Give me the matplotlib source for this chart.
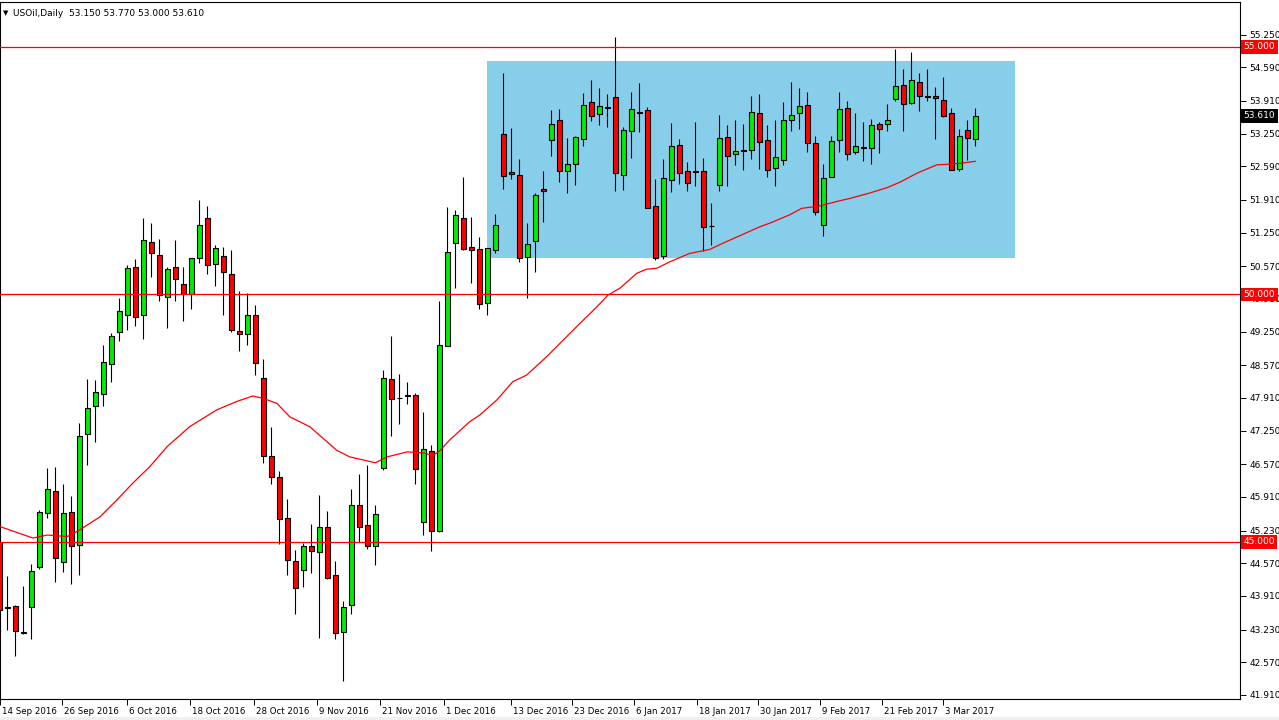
import numpy as np
import matplotlib
matplotlib.use('Agg')
import matplotlib.pyplot as plt
import matplotlib.transforms as mtransforms
from matplotlib.patches import Rectangle

plt.rcParams['font.family'] = ['DejaVu Sans']

# --- data (bar index 0 = 15 Sep 2016) ---
symbol = 'USOil,Daily'
last_ohlc = [53.150, 53.770, 53.000, 53.610]

bar_index = list(range(-1, 122))
opens = [45.00, 43.68, 43.71, 43.18, 43.68, 44.50, 45.58, 46.03, 44.60, 45.60,
         44.93, 47.18, 47.74, 47.98, 48.59, 49.24, 49.58, 50.55, 49.58, 51.06,
         50.79, 49.94, 50.55, 50.21, 50.02, 50.73, 51.54, 50.61, 50.77, 50.41,
         49.26, 49.20, 49.58, 48.31, 46.73, 46.31, 45.48, 44.61, 44.43, 44.92,
         44.80, 45.30, 44.33, 43.19, 43.73, 45.75, 45.34, 44.92, 46.50, 48.29,
         47.91, 47.94, 47.97, 45.41, 46.84, 45.22, 48.96, 51.04, 51.54, 50.95,
         50.91, 49.82, 50.89, 53.24, 52.47, 52.41, 50.75, 51.08, 52.13, 53.12,
         53.52, 52.49, 52.63, 53.14, 53.88, 53.64, 53.79, 53.98, 52.41, 53.30,
         53.69, 53.72, 51.78, 50.77, 52.31, 53.01, 52.49, 52.49, 52.49, 51.39,
         52.21, 53.18, 52.83, 52.91, 52.91, 53.66, 53.12, 52.55, 52.71, 53.52,
         53.66, 53.82, 53.07, 51.40, 52.37, 53.12, 53.76, 52.87, 52.97, 52.95,
         53.44, 53.44, 53.94, 54.23, 53.86, 54.29, 54.00, 54.00, 53.92, 53.66,
         52.53, 53.32, 53.15]
highs = [45.05, 44.31, 43.73, 44.11, 44.56, 45.65, 46.50, 46.52, 46.17, 45.93,
         47.41, 48.29, 48.27, 48.98, 49.22, 49.93, 50.60, 50.72, 51.55, 51.45,
         51.12, 50.55, 51.10, 50.55, 50.74, 51.91, 51.79, 51.00, 50.95, 50.90,
         50.07, 50.03, 49.78, 48.69, 47.32, 46.44, 45.87, 44.84, 44.97, 45.37,
         45.94, 45.62, 44.61, 43.80, 46.08, 46.38, 46.56, 45.75, 48.48, 49.16,
         48.40, 48.23, 48.02, 47.63, 46.95, 49.87, 51.77, 51.70, 52.37, 51.57,
         51.16, 50.93, 51.62, 54.47, 53.36, 52.73, 51.44, 52.05, 52.49, 53.72,
         53.74, 53.16, 53.20, 54.07, 54.33, 54.17, 54.05, 55.20, 53.38, 54.09,
         54.27, 53.78, 52.33, 52.74, 53.46, 53.14, 52.67, 53.48, 52.75, 51.85,
         53.62, 53.42, 53.52, 53.44, 54.01, 54.05, 53.42, 53.53, 53.89, 54.29,
         54.17, 54.09, 53.20, 52.63, 53.20, 54.09, 53.91, 53.67, 53.48, 53.54,
         53.48, 53.85, 54.95, 54.55, 54.89, 54.47, 54.55, 54.19, 54.39, 53.76,
         53.34, 53.52, 53.77]
lows = [43.40, 43.22, 42.70, 43.14, 43.05, 44.46, 45.49, 44.20, 44.40, 44.15,
        44.33, 46.56, 47.01, 47.75, 48.24, 49.07, 49.29, 49.36, 49.11, 50.36,
        49.86, 49.33, 49.86, 49.47, 49.71, 50.64, 50.42, 50.17, 49.59, 49.24,
        48.85, 48.97, 48.38, 46.60, 46.17, 44.96, 44.34, 43.55, 44.09, 44.38,
        43.07, 44.25, 43.04, 42.20, 43.54, 45.00, 44.86, 44.53, 46.45, 47.15,
        47.38, 47.78, 46.18, 45.14, 44.82, 45.20, 48.95, 50.14, 50.90, 50.24,
        49.70, 49.58, 50.83, 52.14, 52.33, 50.65, 49.92, 50.46, 51.47, 52.80,
        52.28, 52.06, 52.22, 52.99, 53.51, 53.42, 53.38, 52.10, 52.12, 52.76,
        53.29, 51.74, 50.69, 50.71, 52.08, 52.24, 52.09, 52.20, 50.87, 50.99,
        52.10, 52.20, 52.62, 52.52, 52.74, 52.54, 52.38, 52.20, 52.61, 53.31,
        53.35, 52.87, 51.60, 51.19, 52.37, 52.87, 52.72, 52.83, 52.70, 52.64,
        52.85, 53.31, 53.90, 53.31, 53.84, 53.71, 53.90, 53.15, 53.59, 52.51,
        52.50, 52.72, 53.00]
closes = [43.63, 43.67, 43.21, 43.17, 44.41, 45.60, 46.07, 44.67, 45.58, 44.91,
          47.14, 47.70, 48.03, 48.63, 49.16, 49.66, 50.54, 49.54, 51.10, 50.83,
          49.98, 50.51, 50.31, 50.02, 50.73, 51.40, 50.59, 50.93, 50.45, 49.28,
          49.20, 49.58, 48.61, 46.73, 46.31, 45.46, 44.63, 44.07, 44.91, 44.81,
          45.30, 44.27, 43.16, 43.69, 45.75, 45.30, 44.92, 45.57, 48.31, 47.89,
          47.90, 47.96, 46.48, 46.88, 45.22, 48.98, 50.86, 51.61, 50.92, 50.89,
          49.80, 50.93, 51.40, 52.39, 52.43, 50.73, 51.03, 52.01, 52.09, 53.44,
          52.49, 52.63, 53.18, 53.82, 53.60, 53.80, 53.77, 52.45, 53.32, 53.74,
          53.67, 51.74, 50.73, 52.35, 52.99, 52.45, 52.25, 52.48, 51.36, 51.38,
          53.16, 52.79, 52.89, 52.90, 53.68, 53.08, 52.51, 52.77, 53.52, 53.62,
          53.80, 53.06, 51.66, 52.35, 53.10, 53.74, 52.83, 52.99, 52.96, 53.42,
          53.34, 53.52, 54.21, 53.84, 54.33, 54.00, 53.99, 53.96, 53.61, 52.51,
          53.20, 53.16, 53.61]

# moving average line, sampled along its path
ma_index = [-0.9, 3.2, 5.0, 7.5, 9.0, 11.6, 13.7, 15.7, 17.8, 20.0, 22.8, 26.2,
            28.7, 30.7, 32.0, 33.7, 35.3, 37.8, 41.2, 42.8, 46.0, 47.5, 50.0,
            52.0, 53.2, 54.1, 55.3, 57.8, 59.1, 61.2, 63.2, 64.9, 67.4, 69.5,
            71.6, 73.7, 75.1, 76.6, 78.7, 79.9, 81.2, 82.8, 85.3, 87.8, 89.5,
            91.6, 94.1, 95.3, 97.8, 99.3, 101.6, 103.7, 105.3, 107.8, 110.0,
            111.6, 113.7, 116.2, 117.5, 119.1, 121.0]
ma_values = [45.31, 45.08, 45.14, 45.11, 45.24, 45.51, 45.85, 46.19, 46.52, 46.93,
             47.33, 47.67, 47.84, 47.95, 47.90, 47.80, 47.53, 47.33, 46.85, 46.72,
             46.60, 46.72, 46.82, 46.80, 46.75, 46.85, 47.06, 47.43, 47.57, 47.87,
             48.24, 48.37, 48.74, 49.08, 49.42, 49.75, 49.99, 50.13, 50.43, 50.51,
             50.53, 50.66, 50.83, 50.91, 51.04, 51.19, 51.37, 51.44, 51.61, 51.74,
             51.79, 51.88, 51.94, 52.05, 52.16, 52.27, 52.45, 52.62, 52.63, 52.65,
             52.69]

levels = [55.0, 50.0, 45.0]
zone_start, zone_end = 59.96, 125.96
zone_low, zone_high = 50.74, 54.72

price_ticks = [55.250, 54.590, 53.910, 53.250, 52.590, 51.910, 51.250, 50.570,
               49.910, 49.250, 48.570, 47.910, 47.250, 46.570, 45.910, 45.230,
               44.570, 43.910, 43.230, 42.570, 41.910]
date_labels = ['14 Sep 2016', '26 Sep 2016', '6 Oct 2016', '18 Oct 2016',
               '28 Oct 2016', '9 Nov 2016', '21 Nov 2016', '1 Dec 2016',
               '13 Dec 2016', '23 Dec 2016', '6 Jan 2017', '18 Jan 2017',
               '30 Jan 2017', '9 Feb 2017', '21 Feb 2017', '3 Mar 2017']
date_ticks = [-0.9, 6.8, 15.0, 22.9, 30.8, 38.7, 46.6, 54.6, 63.0, 70.6,
              78.4, 86.2, 93.9, 101.6, 109.3, 117.0]

# --- figure ---
W, H = 1279, 720
fig = plt.figure(figsize=(W / 100, H / 100), dpi=100)
ax = fig.add_axes([0, 21 / H, 1240 / W, 697 / H])

fs = 6.5
o = np.array(opens)
c = np.array(closes)
body_col = np.where(c >= o, '#00ee00', '#ff0000')

ax.add_patch(Rectangle((zone_start, zone_low), zone_end - zone_start,
                       zone_high - zone_low, facecolor='#87ceeb',
                       edgecolor='none', zorder=1))
ax.vlines(bar_index, lows, highs, color='black', lw=0.8, zorder=2)
ax.bar(bar_index, c - o, bottom=o, width=0.6, color=body_col,
       edgecolor='black', linewidth=0.8, zorder=3)

for lv in levels:
    ax.axhline(lv, color='#ff0000', lw=0.9, zorder=4)
ax.plot(ma_index, ma_values, color='#ff0000', lw=0.9, zorder=4)

ax.set_xlim(-0.9125, 154.09)
ax.set_ylim(41.828, 55.909)

ax.yaxis.tick_right()
ax.set_yticks(price_ticks)
ax.set_yticklabels(['%.3f' % v for v in price_ticks])
ax.tick_params(axis='y', direction='out', length=4, width=0.7, pad=3,
               labelsize=fs, colors='black')
ax.set_xticks(date_ticks)
ax.set_xticklabels(date_labels)
ax.tick_params(axis='x', direction='out', length=4, width=0.7, pad=2,
               labelsize=6.2)
shift = mtransforms.ScaledTranslation(2 / 100, 0, fig.dpi_scale_trans)
for lab in ax.get_xticklabels():
    lab.set_horizontalalignment('left')
    lab.set_transform(lab.get_transform() + shift)

for sp in ax.spines.values():
    sp.set_linewidth(0.8)
    sp.set_color('black')

# price tags on the right axis
for lv in levels:
    ax.text(1.003, lv, '%.3f' % lv, transform=ax.get_yaxis_transform(),
            ha='left', va='center', color='white', fontsize=fs, zorder=6,
            clip_on=False,
            bbox=dict(boxstyle='square,pad=0.25', fc='#ff0000', ec='none'))
ax.text(1.003, last_ohlc[3], '%.3f' % last_ohlc[3],
        transform=ax.get_yaxis_transform(), ha='left', va='center',
        color='white', fontsize=fs, zorder=6, clip_on=False,
        bbox=dict(boxstyle='square,pad=0.25', fc='black', ec='none'))

# header
fig.text(3 / W, 1 - 13 / H, '\u25BC', fontsize=5, va='center', ha='left')
fig.text(13 / W, 1 - 13 / H,
         symbol + '  ' + ' '.join('%.3f' % v for v in last_ohlc),
         fontsize=fs, va='center', ha='left')
fig.patches.append(Rectangle((0, 0), 1, 3 / H, transform=fig.transFigure,
                             facecolor='#f0f0f0', edgecolor='none'))

fig.savefig('out.png', dpi=100)
